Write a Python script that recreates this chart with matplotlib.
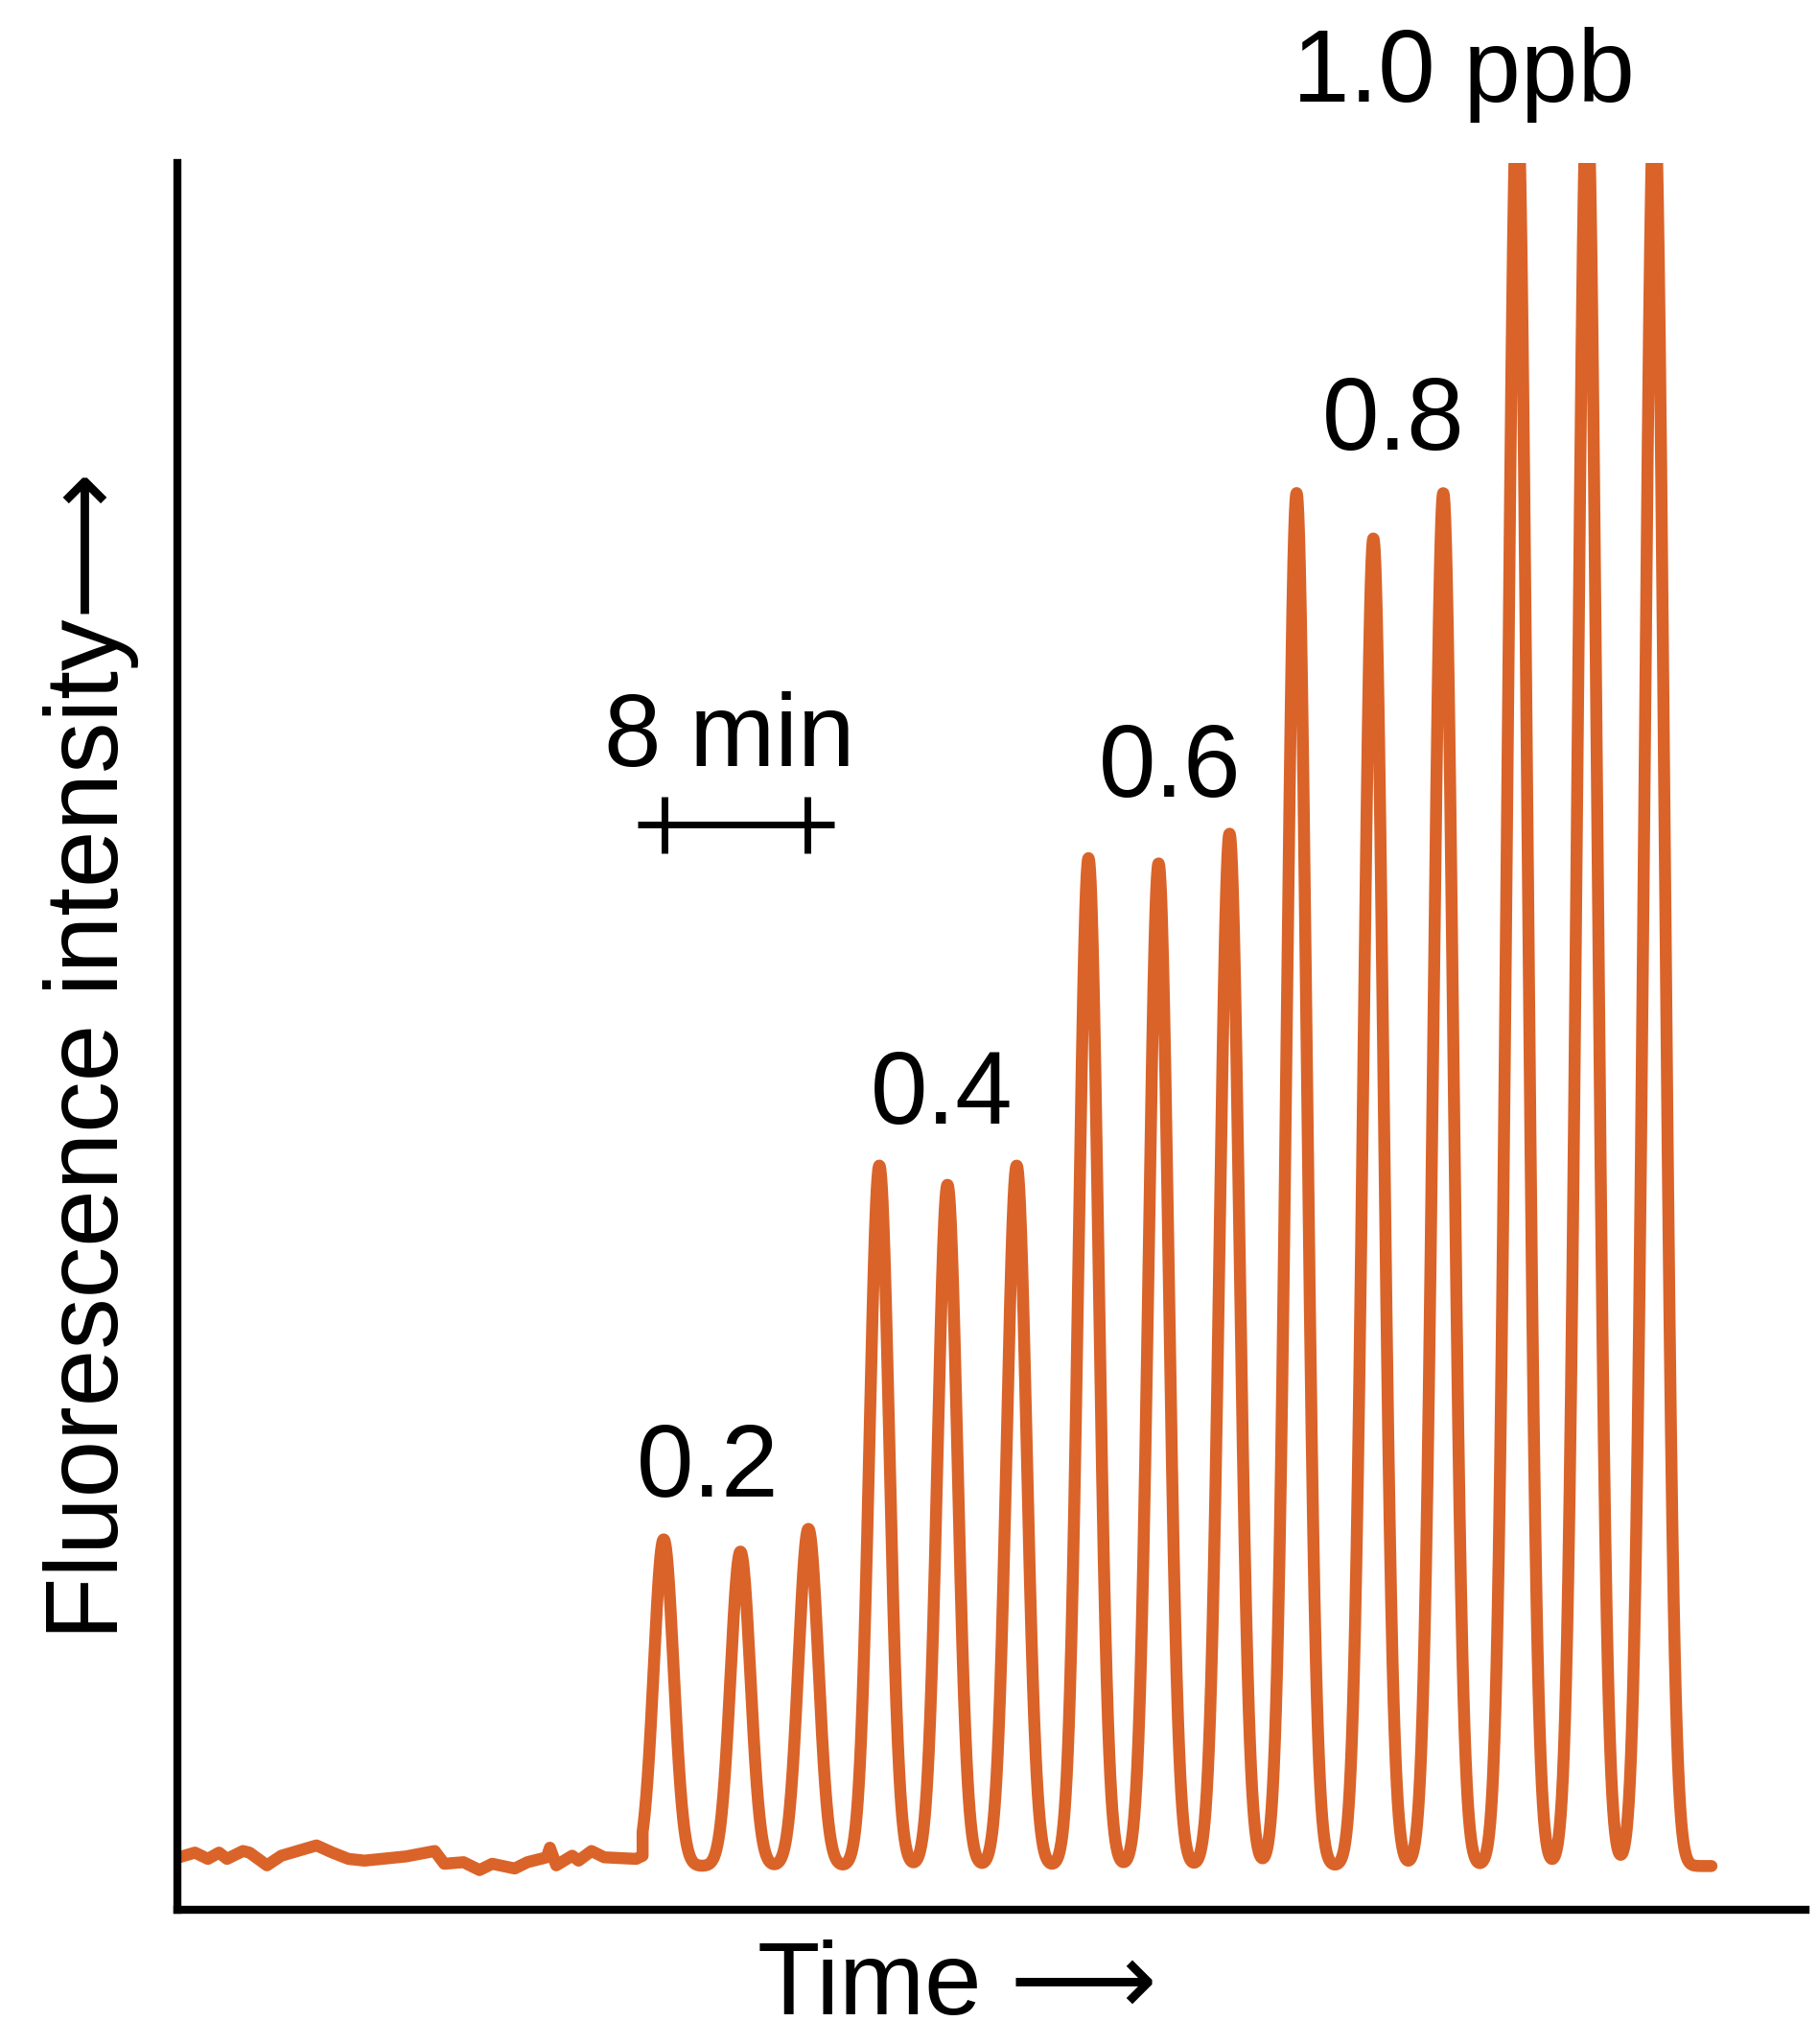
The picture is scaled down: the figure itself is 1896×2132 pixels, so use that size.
import matplotlib.pyplot as plt
import numpy as np

# noisy baseline before the first injection (time in min, intensity in arb. units)
base_t = [0.09, 0.99, 1.72, 2.35, 2.80, 3.70, 4.07, 5.06, 5.87, 6.78, 7.86, 8.76,
          9.66, 10.57, 11.83, 12.92, 14.54, 15.08, 16.17, 17.07, 17.79, 19.06,
          19.78, 20.87, 21.05, 21.41, 22.31, 22.67, 23.40, 24.12, 25.92, 26.29]
base_y = [3.0, 3.27, 2.91, 3.27, 2.91, 3.36, 3.27, 2.54, 3.09, 3.36, 3.68, 3.27,
          2.91, 2.81, 2.94, 3.05, 3.36, 2.63, 2.72, 2.27, 2.63, 2.36,
          2.72, 3.0, 3.55, 2.54, 3.09, 2.81, 3.36, 3.0, 2.91, 3.09]

# injection peaks: retention time (min) and height
peak_t = [27.48, 31.82, 35.66, 39.67, 43.52, 47.43, 51.49, 55.45, 59.46,
          63.25, 67.59, 71.54, 75.72, 79.67, 83.47]
peak_h = [21.2, 20.5, 21.8, 42.6, 41.5, 42.6, 60.2, 59.9, 61.6,
          81.1, 78.5, 81.1, 104.0, 104.0, 104.0]
peak_level = 2.5
trace_end = 86.7

labels = ["0.2", "0.4", "0.6", "0.8", "1.0 ppb"]
label_x = [29.97, 43.2, 56.1, 68.7, 72.7]
label_y = [23.65, 45.0, 63.7, 83.6, 103.5]

orange = '#DA6329'
fam = ['Liberation Sans', 'DejaVu Sans']
fs = 77

fig = plt.figure(figsize=(18.96, 21.32), dpi=100)
ax = fig.add_axes([0.0976, 0.0657, 0.8954, 0.8546])

# peak section of the trace
tt = np.linspace(base_t[-1], trace_end, 3000)
yy = np.full_like(tt, peak_level)
sigma = 0.56
for t0, h in zip(peak_t, peak_h):
    yy += (h - peak_level) * np.exp(-0.5 * ((tt - t0) / sigma) ** 2)

x_all = np.concatenate([base_t, tt])
y_all = np.concatenate([base_y, yy])
ax.plot(x_all, y_all, color=orange, lw=9, solid_joinstyle='round',
        solid_capstyle='round')

ax.set_xlim(0, 92)
ax.set_ylim(0, 100)
ax.set_xticks([])
ax.set_yticks([])
for s in ['top', 'right']:
    ax.spines[s].set_visible(False)
for s in ['left', 'bottom']:
    ax.spines[s].set_linewidth(6)

for lab, x, y in zip(labels, label_x, label_y):
    ax.text(x, y, lab, ha='center', va='baseline', fontsize=fs, family=fam)

# 8 min scale bar
ax.text(31.2, 65.5, "8 min", ha='center', va='baseline', fontsize=fs, family=fam)
ax.plot([26.0, 37.1], [62.1, 62.1], color='black', lw=5, solid_capstyle='butt')
for tx in [27.5, 35.6]:
    ax.plot([tx, tx], [60.5, 63.7], color='black', lw=5, solid_capstyle='butt')

fig.text(0.5266, 0.0145, "Time \u27f6", ha='center', va='baseline',
         fontsize=fs, family=fam)
fig.text(0.050, 0.4836, "Fluorescence intensity\u27f6", ha='center', va='center',
         rotation=90, fontsize=fs, family=fam)

fig.savefig('out.png', dpi=100)
